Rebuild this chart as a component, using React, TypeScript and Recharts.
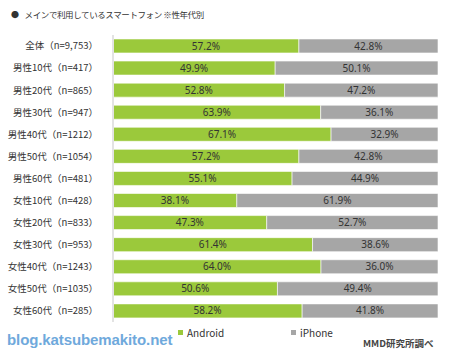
import { BarChart, Bar, XAxis, YAxis, Legend, LabelList } from 'recharts';

const categories = [
  '全体（n=9,753）',
  '男性10代（n=417）',
  '男性20代（n=865）',
  '男性30代（n=947）',
  '男性40代（n=1212）',
  '男性50代（n=1054）',
  '男性60代（n=481）',
  '女性10代（n=428）',
  '女性20代（n=833）',
  '女性30代（n=953）',
  '女性40代（n=1243）',
  '女性50代（n=1035）',
  '女性60代（n=285）',
];
const android = [57.2, 49.9, 52.8, 63.9, 67.1, 57.2, 55.1, 38.1, 47.3, 61.4, 64.0, 50.6, 58.2];
const iphone = [42.8, 50.1, 47.2, 36.1, 32.9, 42.8, 44.9, 61.9, 52.7, 38.6, 36.0, 49.4, 41.8];

const GREEN = '#9bc93b';
const GRAY = '#a6a6a6';
const JP = '"Noto Sans CJK JP", "Noto Sans", sans-serif';

const data = categories.map((name, i) => ({ name, Android: android[i], iPhone: iphone[i] }));

const fmt = (v: any) => `${Number(v).toFixed(1)}%`;

function LegendContent(props: any) {
  const items = props.payload || [];
  return (
    <div style={{ position: 'relative', height: 14, fontFamily: JP, fontSize: 10, color: '#333' }}>
      {items.map((it: any, i: number) => (
        <div key={it.value} style={{ position: 'absolute', left: 178 + i * 113, top: 0, display: 'flex', alignItems: 'center' }}>
          <span style={{ display: 'inline-block', width: 5, height: 5, background: it.color, marginRight: 4 }} />
          <span>{it.value}</span>
        </div>
      ))}
    </div>
  );
}

export default function App() {
  return (
    <div style={{ position: 'absolute', left: 0, top: 0, width: 450, height: 352, background: '#fff', fontFamily: JP }}>
      <div style={{ position: 'absolute', left: 11, top: 8, fontSize: 8.5, letterSpacing: -0.4, color: '#333', display: 'flex', alignItems: 'center' }}>
        <span style={{ fontSize: 8, marginRight: 6 }}>●</span>
        <span>メインで利用しているスマートフォン ※性年代別</span>
      </div>
      <BarChart
        width={450}
        height={352}
        data={data}
        layout="vertical"
        margin={{ top: 35, right: 12, bottom: 30, left: 0 }}
        barCategoryGap="18%"
      >
        <XAxis type="number" domain={[0, 100]} hide />
        <YAxis
          type="category"
          dataKey="name"
          width={113}
          tickLine={false}
          tickSize={0}
          tickMargin={15}
          axisLine={{ stroke: '#e3e3e3', strokeWidth: 2 }}
          tick={{ fontSize: 9.5, fill: '#333', fontFamily: JP }}
          interval={0}
        />
        <Legend
          layout="vertical"
          verticalAlign="middle"
          align="center"
          wrapperStyle={{ left: 0, top: 325, width: 450 }}
          content={<LegendContent />}
        />
        <Bar dataKey="Android" stackId="a" fill={GREEN} stroke="#ffffff" strokeWidth={0.6} isAnimationActive={false}>
          <LabelList dataKey="Android" position="center" formatter={fmt} style={{ fontSize: 10, fill: '#333', fontFamily: '"Noto Sans", sans-serif' }} />
        </Bar>
        <Bar dataKey="iPhone" stackId="a" fill={GRAY} stroke="#ffffff" strokeWidth={0.6} isAnimationActive={false}>
          <LabelList dataKey="iPhone" position="center" formatter={fmt} style={{ fontSize: 10, fill: '#333', fontFamily: '"Noto Sans", sans-serif' }} />
        </Bar>
      </BarChart>
      <div style={{ position: 'absolute', left: 7, top: 332, fontSize: 15, lineHeight: '16px', fontWeight: 'bold', color: '#6fa9dc', fontFamily: '"Liberation Sans", sans-serif', letterSpacing: -0.1 }}>
        blog.katsubemakito.net
      </div>
      <div style={{ position: 'absolute', left: 363, top: 336, fontSize: 9.5, fontWeight: 'bold', color: '#444' }}>
        MMD研究所調べ
      </div>
    </div>
  );
}
